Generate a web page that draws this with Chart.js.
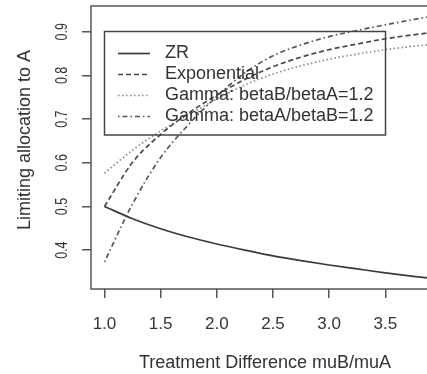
<!DOCTYPE html>
<html>
<head>
<meta charset="utf-8">
<script src="https://cdn.jsdelivr.net/npm/chart.js@4.4.0/dist/chart.umd.min.js"></script>
<style>
  html, body { margin: 0; padding: 0; background: #fff; overflow: hidden; }
  #wrap { width: 470px; height: 374px; }
</style>
</head>
<body>
<div id="wrap"><canvas id="allocChart" width="470" height="374"></canvas></div>
<script>
// values (step 0.25 in muB/muA)
const xValues = [1, 1.25, 1.5, 1.75, 2, 2.25, 2.5, 2.75, 3, 3.25, 3.5, 3.75, 4];
const zrValues = [0.500, 0.472, 0.449, 0.430, 0.414, 0.400, 0.387, 0.376, 0.366, 0.357, 0.348, 0.340, 0.333];
const expValues = [0.500, 0.601, 0.665, 0.714, 0.755, 0.791, 0.820, 0.842, 0.859, 0.872, 0.884, 0.893, 0.901];
const gammaBAValues = [0.576, 0.629, 0.673, 0.710, 0.746, 0.778, 0.803, 0.822, 0.837, 0.849, 0.859, 0.867, 0.873];
const gammaABValues = [0.373, 0.506, 0.612, 0.688, 0.752, 0.806, 0.845, 0.870, 0.889, 0.903, 0.916, 0.928, 0.939];

const seriesLabels = ['ZR', 'Exponential', 'Gamma: betaB/betaA=1.2', 'Gamma: betaA/betaB=1.2'];
const xTicks = [1.0, 1.5, 2.0, 2.5, 3.0, 3.5, 4.0];
const yTicks = [0.4, 0.5, 0.6, 0.7, 0.8, 0.9];

const FONT = '"Liberation Sans", Arial, Helvetica, sans-serif';
Chart.defaults.font.family = FONT;

const toPoints = arr => xValues.map((x, i) => ({ x: x, y: arr[i] }));

const lineStyles = [
    { color: '#3a3a3a', dash: [] },
    { color: '#4a4a4a', dash: [5, 3] },
    { color: '#8a8a8a', dash: [1.5, 2.5] },
    { color: '#555555', dash: [1.5, 3, 5, 3] }
];

const datasets = [zrValues, expValues, gammaBAValues, gammaABValues].map((vals, i) => ({
    label: seriesLabels[i],
    data: toPoints(vals),
    borderColor: lineStyles[i].color,
    borderDash: lineStyles[i].dash,
    borderWidth: 1.7,
    pointRadius: 0,
    fill: false,
    cubicInterpolationMode: 'monotone'
}));

// R-style box, rotated y labels, axis titles and legend
const rStyle = {
    id: 'rStyle',
    afterDraw(chart) {
        const { ctx, chartArea: a, scales: { y } } = chart;
        ctx.save();
        ctx.strokeStyle = '#555';
        ctx.lineWidth = 1.5;
        ctx.strokeRect(a.left, a.top, a.right - a.left, a.bottom - a.top);

        ctx.fillStyle = '#333';
        ctx.textAlign = 'center';
        ctx.textBaseline = 'middle';

        ctx.font = '16px ' + FONT;
        yTicks.forEach(v => {
            ctx.save();
            ctx.translate(a.left - 28.5, y.getPixelForValue(v));
            ctx.rotate(-Math.PI / 2);
            ctx.scale(0.78, 1);
            ctx.fillText(v.toFixed(1), 0, 0);
            ctx.restore();
        });

        ctx.font = '18px ' + FONT;
        ctx.save();
        ctx.translate(25, 140);
        ctx.rotate(-Math.PI / 2);
        ctx.fillText('Limiting allocation to A', 0, 0);
        ctx.restore();

        ctx.fillText('Treatment Difference muB/muA', 265, 363);

        // legend
        ctx.strokeStyle = '#444';
        ctx.lineWidth = 1.5;
        ctx.strokeRect(104.5, 31.5, 281, 103.5);
        ctx.textAlign = 'left';
        chart.data.datasets.forEach((ds, i) => {
            const ly = 53.5 + i * 21;
            ctx.save();
            ctx.strokeStyle = ds.borderColor;
            ctx.lineWidth = ds.borderWidth;
            ctx.setLineDash(ds.borderDash);
            ctx.beginPath();
            ctx.moveTo(118, ly);
            ctx.lineTo(150, ly);
            ctx.stroke();
            ctx.restore();
            ctx.fillText(ds.label, 165, ly);
        });
        ctx.restore();
    }
};

const ctx = document.getElementById('allocChart').getContext('2d');
new Chart(ctx, {
    type: 'line',
    data: { datasets: datasets },
    plugins: [rStyle],
    options: {
        responsive: false,
        animation: false,
        layout: { padding: { top: 6, right: 15, bottom: 0, left: 0 } },
        scales: {
            x: {
                type: 'linear',
                min: 0.88,
                max: 4.12,
                afterBuildTicks: s => { s.ticks = xTicks.map(v => ({ value: v })); },
                afterFit: s => { s.height = 85; },
                border: { display: false },
                grid: { drawOnChartArea: false, tickLength: 9, tickColor: '#555', lineWidth: 1.5 },
                ticks: {
                    autoSkip: false,
                    maxRotation: 0,
                    padding: 16,
                    color: '#333',
                    font: { size: 17 },
                    callback: v => v.toFixed(1)
                }
            },
            y: {
                type: 'linear',
                min: 0.311,
                max: 0.959,
                afterBuildTicks: s => { s.ticks = yTicks.map(v => ({ value: v })); },
                afterFit: s => { s.width = 91; },
                border: { display: false },
                grid: { drawOnChartArea: false, tickLength: 9, tickColor: '#555', lineWidth: 1.5 },
                ticks: { display: false }
            }
        },
        plugins: {
            legend: { display: false },
            tooltip: { enabled: false }
        }
    }
});
</script>
</body>
</html>
